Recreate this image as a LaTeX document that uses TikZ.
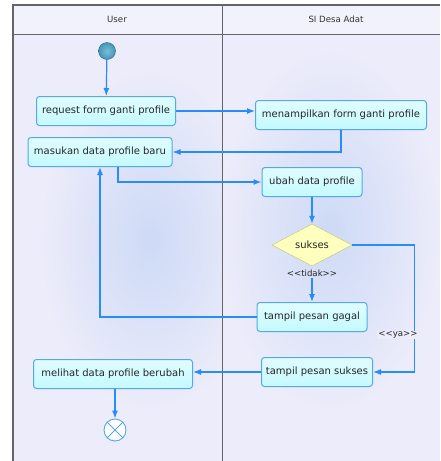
\documentclass[tikz,border=0pt]{standalone}
\usepackage{fontspec}
\setmainfont{DejaVu Sans}
\usetikzlibrary{arrows.meta,shapes}
\definecolor{flowblue}{RGB}{40,140,250}
\definecolor{boxline}{RGB}{85,170,225}
\definecolor{boxfill}{RGB}{195,250,255}
\definecolor{lanebg}{RGB}{236,236,250}
\definecolor{laneblue}{RGB}{205,218,246}
\definecolor{headbg}{RGB}{242,242,252}
\definecolor{frameline}{RGB}{100,100,105}
\definecolor{decfill}{RGB}{255,255,190}
\definecolor{decline}{RGB}{195,195,110}
\definecolor{startball}{RGB}{70,150,185}
\definecolor{startlight}{RGB}{120,190,215}
\definecolor{startline}{RGB}{40,100,130}
\newcommand{\fsize}{\fontsize{10}{12}\selectfont}
\newcommand{\gsize}{\fontsize{8.6}{10}\selectfont}
\newcommand{\guard}[1]{<\kern0pt<#1>\kern0pt>}

\begin{document}
\begin{tikzpicture}[x=1pt,y=-1pt]
        \tikzset{act/.style={draw=boxline, rounded corners=3pt, top color=white!50!boxfill, bottom color=boxfill,
                  font=\fsize, text=black!85, minimum height=29, inner xsep=4pt, line width=1pt},
                 flow/.style={draw=flowblue, line width=1.2pt, -{Latex[length=8pt,width=6pt]}},
                 decision/.style={diamond, aspect=2, inner sep=0pt, minimum width=80, minimum height=42,
                  draw=decline, fill=decfill, font=\fsize, text=black!85},
                 header/.style={font=\gsize, text=black!80},
                 guardlbl/.style={font=\gsize, text=black!85, inner sep=1pt}}
        \useasboundingbox (0,0) rectangle (440,461);
        % lanes
        \fill[lanebg] (13,5) rectangle (440,461);
        \begin{scope}
            \clip (13,34) rectangle (222,461);
            \shade[inner color=laneblue, outer color=lanebg] (150,240) ellipse (110 and 170);
        \end{scope}
        \begin{scope}
            \clip (222,34) rectangle (440,461);
            \shade[inner color=laneblue, outer color=lanebg] (330,230) ellipse (110 and 180);
        \end{scope}
        \fill[headbg] (13,5) rectangle (440,34);
        \draw[frameline, line width=1.4pt] (13,461) -- (13,5) -- (440,5);
        \draw[frameline, line width=1pt] (13,34) -- (440,34);
        \draw[frameline, line width=1pt] (222,5) -- (222,461);
        \node[header] (user) at (117,19) {User};
        \node[header] (sidesa) at (336,19) {SI Desa Adat};

        % nodes
        \node[circle, minimum size=17, inner sep=0pt, draw=startline, inner color=startlight, outer color=startball] (start) at (107,51) {};
        \node[act, minimum width=139] (request) at (106,111) {request form ganti profile};
        \node[act, minimum width=171] (tampilform) at (341,115) {menampilkan form ganti profile};
        \node[act, minimum width=144] (masukan) at (100,152) {masukan data profile baru};
        \node[act, minimum width=100] (ubah) at (312,182) {ubah data profile};
        \node[decision] (sukses) at (312,245) {sukses};
        \node[guardlbl] (tidak) at (312,273) {\guard{tidak}};
        \node[act, minimum width=110] (gagal) at (312,317) {tampil pesan gagal};
        \node[act, minimum width=111] (pesansukses) at (317,372) {tampil pesan sukses};
        \node[act, minimum width=159] (melihat) at (113,374) {melihat data profile berubah};
        \node[circle, minimum size=22, inner sep=0pt, draw=boxline, line width=0.9pt, fill=white] (stop) at (115,430) {};
        \draw[boxline, line width=0.9pt] (stop.45) -- (stop.225) (stop.135) -- (stop.315);

        % flows
        \draw[flow] (start) -- (request);
        \draw[flow] (request.east) -- (request.east -| tampilform.west);
        \draw[flow] (tampilform.south) |- (masukan.east);
        \draw[flow] ([xshift=18]masukan.south) |- (ubah.west);
        \draw[flow] (ubah) -- (sukses);
        \draw[flow] (tidak) -- (gagal);
        \draw[flow] (gagal.west) -| (masukan.south);
        \draw[flow] (sukses.east) -- ++(62,0) |- (pesansukses.east);
        \node[guardlbl, fill=lanebg] (ya) at (398,335) {\guard{ya}};
        \draw[flow] (pesansukses.west) -- (pesansukses.west -| melihat.east);
        \draw[flow] (melihat.south -| stop) -- (stop);
\end{tikzpicture}
\end{document}
